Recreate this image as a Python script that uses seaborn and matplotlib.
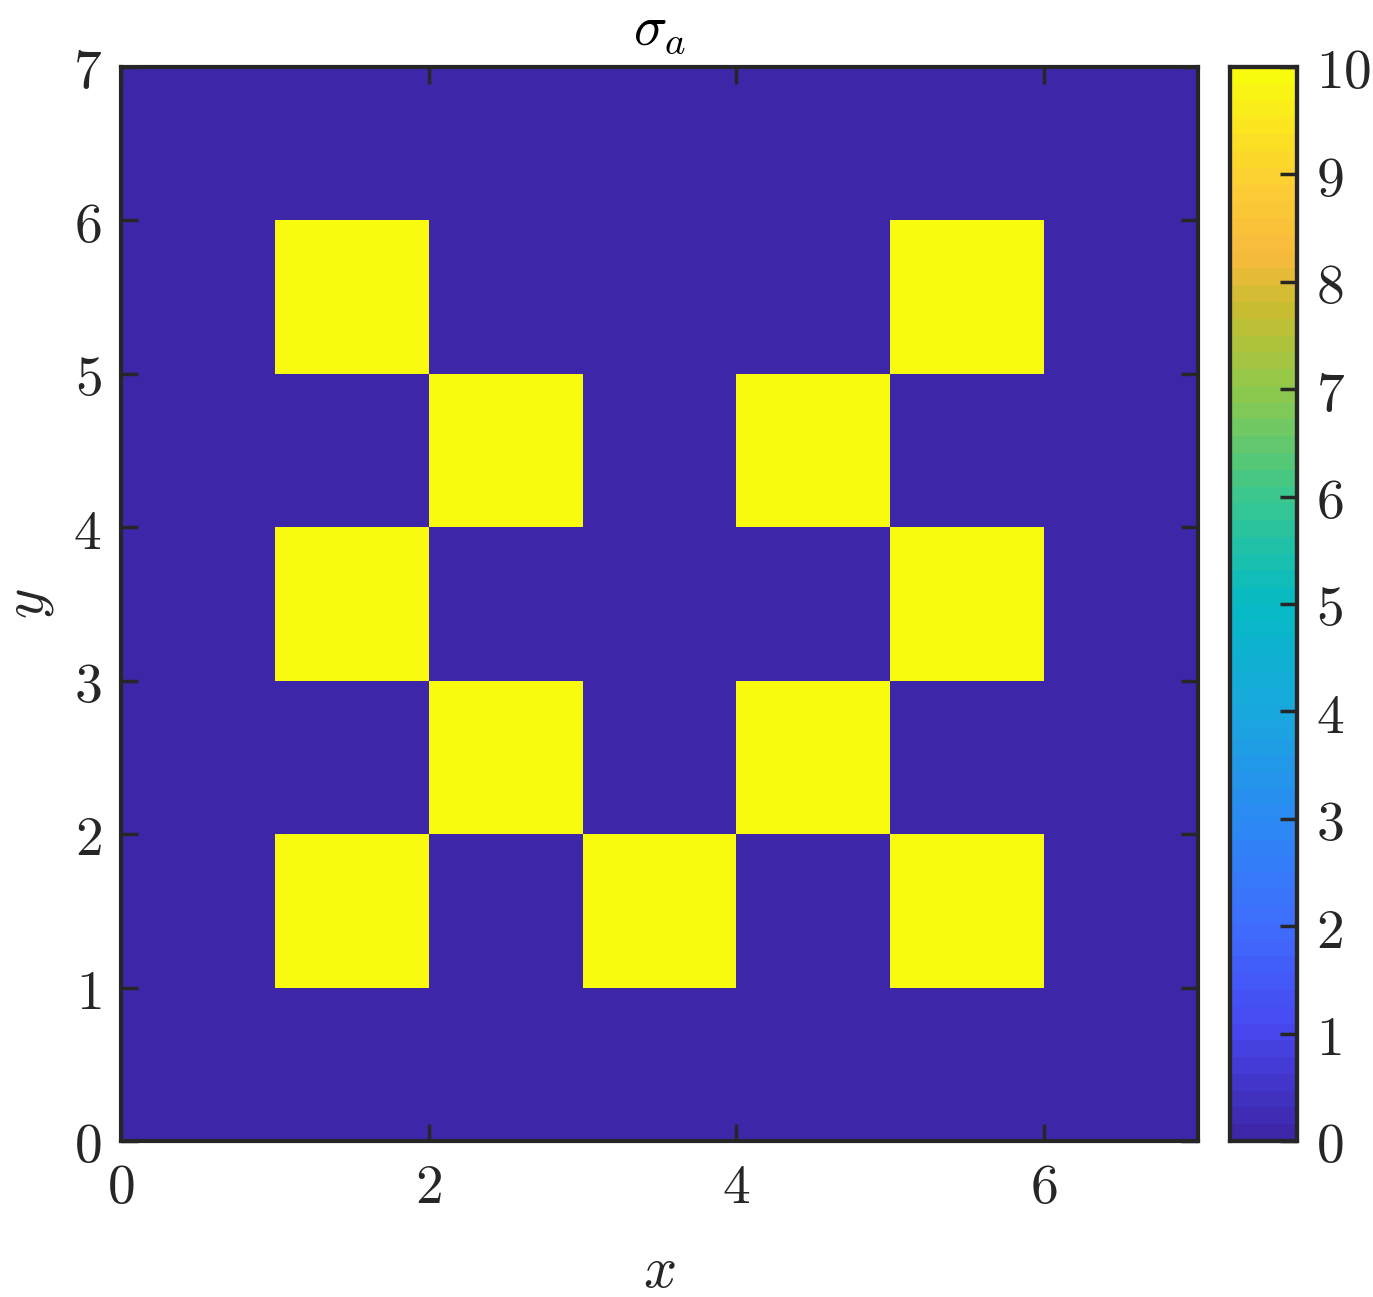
import numpy as np
import matplotlib
matplotlib.use('Agg')
import matplotlib.pyplot as plt
import seaborn as sns
from matplotlib.colors import LinearSegmentedColormap

# sigma_a on the 7x7 grid, rows from y=0 (bottom) to y=6 (top)
sigma_a = [
    [0, 0, 0, 0, 0, 0, 0],
    [0, 10, 0, 10, 0, 10, 0],
    [0, 0, 10, 0, 10, 0, 0],
    [0, 10, 0, 0, 0, 10, 0],
    [0, 0, 10, 0, 10, 0, 0],
    [0, 10, 0, 0, 0, 10, 0],
    [0, 0, 0, 0, 0, 0, 0],
]
x_ticks = [0, 2, 4, 6]
y_ticks = [0, 1, 2, 3, 4, 5, 6, 7]
cbar_ticks = [0, 1, 2, 3, 4, 5, 6, 7, 8, 9, 10]

# approximate MATLAB parula
parula_stops = [
    (0.00, (0.2422, 0.1504, 0.6603)),
    (0.10, (0.2780, 0.2800, 0.9400)),
    (0.20, (0.2450, 0.4300, 0.9950)),
    (0.30, (0.1650, 0.5450, 0.9500)),
    (0.40, (0.1000, 0.6600, 0.8700)),
    (0.50, (0.0200, 0.7300, 0.7700)),
    (0.60, (0.2200, 0.7800, 0.5600)),
    (0.70, (0.5500, 0.7900, 0.3000)),
    (0.78, (0.7900, 0.7400, 0.1900)),
    (0.83, (0.9700, 0.7300, 0.2400)),
    (0.90, (0.9900, 0.8100, 0.2000)),
    (1.00, (0.9763, 0.9831, 0.0538)),
]
parula = LinearSegmentedColormap.from_list('parula', parula_stops, N=64)

sns.set_style('white')
plt.rcParams['font.family'] = ['DejaVu Serif']
plt.rcParams['mathtext.fontset'] = 'cm'
plt.rcParams['axes.axisbelow'] = False

fig = plt.figure(figsize=(13.73, 12.97), dpi=100)
ax = fig.add_axes([0.0881, 0.1203, 0.7844, 0.8280])
cax = fig.add_axes([0.8958, 0.1203, 0.0488, 0.8280])

sns.heatmap(np.array(sigma_a), cmap=parula, vmin=0, vmax=10, ax=ax, cbar_ax=cax,
            xticklabels=False, yticklabels=False)
ax.set_ylim(0, 7)
ax.set_xlim(0, 7)
ax.set_aspect('auto')
ax.set_axisbelow(False)
cax.set_axisbelow(False)

edge = '#262626'
ax.set_xticks(x_ticks)
ax.set_xticklabels([f'${v}$' for v in x_ticks])
ax.set_yticks(y_ticks)
ax.set_yticklabels([f'${v}$' for v in y_ticks])
ax.tick_params(direction='in', length=12, width=2.5, color=edge, labelsize=40,
               labelcolor=edge, top=True, right=True, bottom=True, left=True, pad=14)
for s in ax.spines.values():
    s.set_visible(True)
    s.set_color(edge)
    s.set_linewidth(3)
    s.set_zorder(5)

ax.set_title(r'$\sigma_a$', fontsize=40, pad=16, color='black')
ax.set_xlabel(r'$x$', fontsize=42, labelpad=20, color=edge)
ax.set_ylabel(r'$y$', fontsize=42, labelpad=12, color=edge)

cax.set_yticks(cbar_ticks)
cax.set_yticklabels([f'${v}$' for v in cbar_ticks])
cax.tick_params(direction='in', length=12, width=2.5, color=edge, labelsize=40,
                labelcolor=edge, right=True, left=False, pad=14)
for s in cax.spines.values():
    s.set_visible(True)
    s.set_color(edge)
    s.set_linewidth(3)
    s.set_zorder(5)

fig.savefig('out.png', dpi=100, facecolor='white')
